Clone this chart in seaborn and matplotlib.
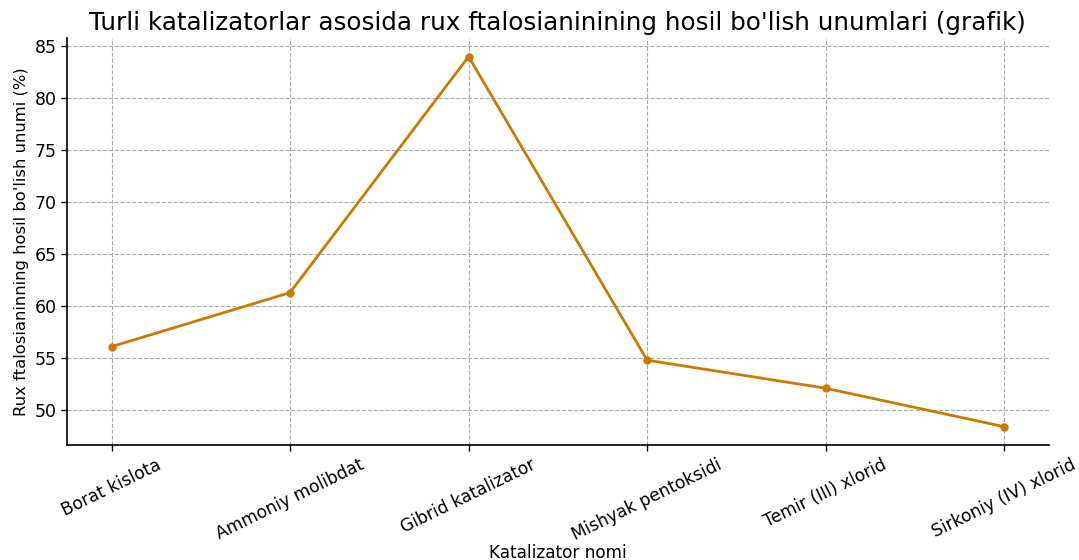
import matplotlib
matplotlib.use("Agg")
import matplotlib.pyplot as plt
import seaborn as sns
import pandas as pd

categories = ["Borat kislota", "Ammoniy molibdat", "Gibrid katalizator",
              "Mishyak pentoksidi", "Temir (III) xlorid", "Sirkoniy (IV) xlorid"]
yields = [56.1, 61.3, 84.0, 54.8, 52.1, 48.4]

df = pd.DataFrame({"Katalizator": categories, "Unum": yields})

sns.set_theme(style="white")
plt.rcParams['font.family'] = ['DejaVu Sans']
plt.rcParams['text.color'] = 'black'
plt.rcParams['axes.labelcolor'] = 'black'
plt.rcParams['xtick.color'] = 'black'
plt.rcParams['ytick.color'] = 'black'

fig, ax = plt.subplots(figsize=(10.79, 5.6), dpi=100)
sns.lineplot(data=df, x="Katalizator", y="Unum", ax=ax, color="#c97a00",
             linewidth=2, marker="o", markersize=6, markeredgewidth=0,
             sort=False)

ax.set_title("Turli katalizatorlar asosida rux ftalosianinining hosil bo'lish unumlari (grafik)",
             fontsize=17.7, pad=6, color='black')
ax.set_xlabel("Katalizator nomi", fontsize=12.2)
ax.set_ylabel("Rux ftalosianinning hosil bo'lish unumi (%)", fontsize=11.8)
ax.tick_params(axis='both', labelsize=12.5, length=4, width=1, bottom=True, left=True)
ax.tick_params(axis='x', labelsize=12.3)
plt.setp(ax.get_xticklabels(), rotation=26, ha='center')
ax.grid(True, linestyle='--', color='#aaaaaa', linewidth=0.8)
sns.despine(ax=ax)
for s in ['left', 'bottom']:
    ax.spines[s].set_color('black')
    ax.spines[s].set_linewidth(1.2)

fig.subplots_adjust(left=0.062, right=0.972, top=0.932, bottom=0.205)
ax.xaxis.set_label_coords(0.5, -0.243)
fig.savefig("out.png", dpi=100)
